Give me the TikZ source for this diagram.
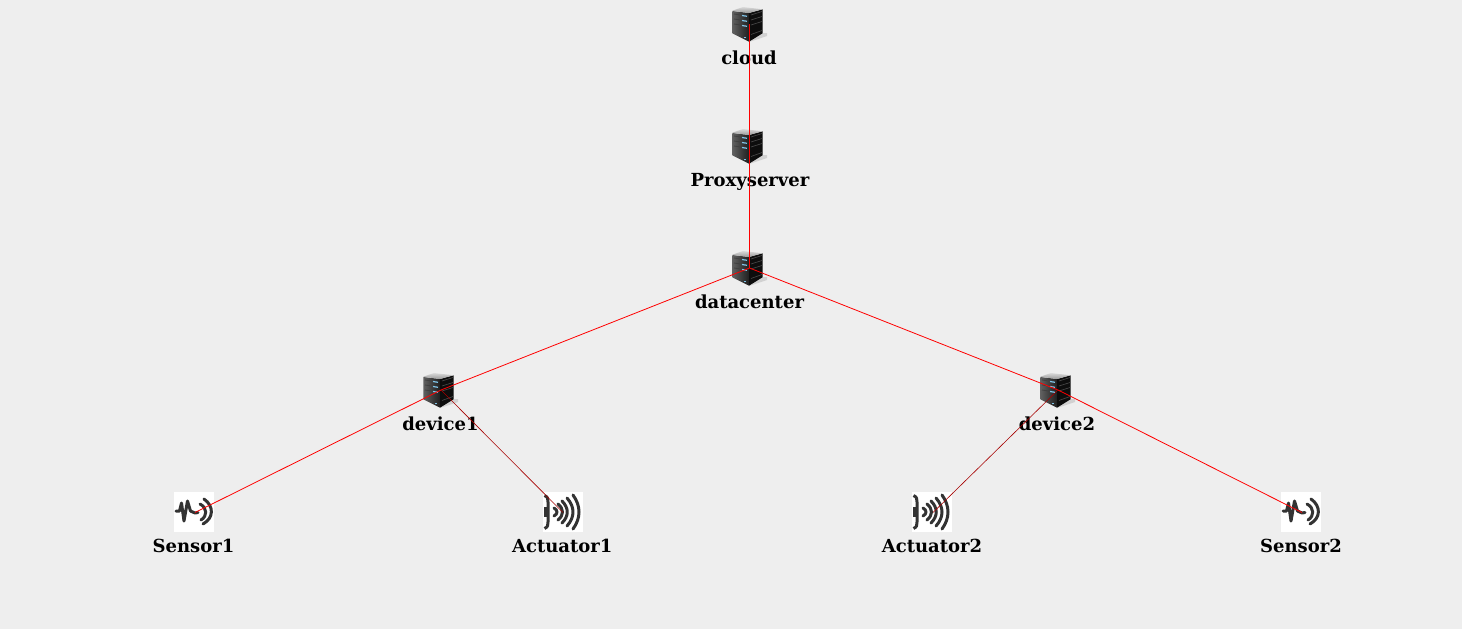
\documentclass[tikz,border=0pt]{standalone}
\usepackage{fontspec}
\setmainfont{DejaVu Serif}
\definecolor{bgc}{HTML}{EEEEEE}
\definecolor{ink}{HTML}{333333}
\definecolor{ledc}{HTML}{7FC4E8}
\tikzset{
  x=1pt,y=-1pt,
  lbl/.style={font=\fontsize{18}{20}\selectfont\bfseries,text=black,inner sep=0pt,anchor=base},
  anchorpt/.style={inner sep=0pt,minimum size=0pt,outer sep=0pt},
  wire/.style={draw=red,line width=0.8pt},
  thinwire/.style={draw=red!65!black,line width=0.6pt},
  wave/.style={draw=ink,line width=3pt,line cap=round,line join=round},
  pics/servericon/.style={code={
    \fill[black!25,opacity=.6] (-1,18) -- (12,9) -- (17,9) -- (17,12) -- (8,15) -- cycle;
    \shade[left color=black!62,right color=black!88] (-17.7,-13) -- (-1,-11) -- (-1,17.7) -- (-17.7,9.3) -- cycle;
    \fill[black!95] (-1,-11) -- (12.5,-14.7) -- (12.5,9.3) -- (-1,17.7) -- cycle;
    \shade[top color=black!15,bottom color=black!40] (-17.7,-13.3) -- (-7,-17) -- (12.5,-14.7) -- (-1,-11) -- cycle;
    \foreach \yy in {-8.5,-3.5,1.5}{
      \draw[line width=.8pt,black!75] (-16,\yy-1.5) -- (-9,\yy-.5);
      \draw[line width=1.2pt,ledc] (-8,\yy) -- (-3,\yy+.8);
      \draw[line width=.6pt,black!70] (1,\yy-.5) -- (12,\yy-4);
    }
    \draw[line width=.6pt,black!70] (1,10.5) -- (12,6.5);
    \fill[ledc] (-6,12.5) rectangle (-4,14);
  }},
  pics/sensoricon/.style={code={
    \fill[white] (-20,-20) rectangle (20,20);
    \draw[wave] (-18,-1) -- (-14.5,-1) -- (-12.5,-9) -- (-10,9) -- (-6.5,-11) -- (-3.5,-1) -- (1,1) -- (4,0.5);
    \draw[wave] (6,-8) .. controls (13.5,-4) and (13.5,4) .. (7,8);
    \draw[wave] (10,-13) .. controls (20,-6) and (20,6) .. (9,12);
  }},
  pics/actuatoricon/.style={code={
    \fill[white] (-20,-20) rectangle (20,20);
    \draw[wave,line cap=butt] (-18.5,-16.5) .. controls (-15,-15) and (-15,-13) .. (-15,-10) -- (-15,10) .. controls (-15,13) and (-15,15) .. (-18.5,16.5);
    \draw[wave,line cap=butt,line width=3.5pt] (-17.5,-5) -- (-17.5,5);
    \draw[wave] (-9,-4) .. controls (-5,-2) and (-5,2) .. (-9,4);
    \draw[wave] (-5,-8) .. controls (1,-3) and (1,3) .. (-5,8);
    \draw[wave] (-1,-11) .. controls (6,-4) and (6,4) .. (-1,11);
    \draw[wave] (4,-14) .. controls (12,-5) and (12,5) .. (4,14);
    \draw[wave] (10,-17) .. controls (18,-6) and (18,6) .. (10,17);
  }}
}
\begin{document}
\begin{tikzpicture}
\path[use as bounding box,fill=bgc] (0,0) rectangle (1462,629);
% icons
\pic at (750,24) {servericon};
\pic at (750,146) {servericon};
\pic at (750,268) {servericon};
\pic at (441,390) {servericon};
\pic at (1058,390) {servericon};
\pic at (194,512) {sensoricon};
\pic at (563,512) {actuatoricon};
\pic at (932,512) {actuatoricon};
\pic at (1301,512) {sensoricon};
% anchor nodes
\node[anchorpt] (cloud) at (749.5,24) {};
\node[anchorpt] (proxy) at (749.5,146) {};
\node[anchorpt] (dc) at (749.5,268) {};
\node[anchorpt] (dev1) at (441,390) {};
\node[anchorpt] (dev2) at (1058,390) {};
\node[anchorpt] (s1) at (195,512.5) {};
\node[anchorpt] (a1) at (563,512.5) {};
\node[anchorpt] (a2) at (933,512.5) {};
\node[anchorpt] (s2) at (1302,512.5) {};
% labels
\node[lbl] (lcloud) at (749,64.5) {cloud};
\node[lbl] (lproxy) at (750,186.5) {Proxyserver};
\node[lbl] (ldc) at (749.5,308.5) {datacenter};
\node[lbl] (ld1) at (440.5,430.5) {device1};
\node[lbl] (ld2) at (1057,430.5) {device2};
\node[lbl] (ls1) at (193.5,552.5) {Sensor1};
\node[lbl] (la1) at (562.3,552.5) {Actuator1};
\node[lbl] (la2) at (932,552.5) {Actuator2};
\node[lbl] (ls2) at (1301,552.5) {Sensor2};
% connectors
\draw[wire] (cloud.center) -- (proxy.center);
\draw[wire] (proxy.center) -- (dc.center);
\draw[wire] (dc.center) -- (dev1.center);
\draw[wire] (dc.center) -- (dev2.center);
\draw[wire] (dev1.center) -- (s1.center);
\draw[thinwire] (dev1.center) -- (a1.center);
\draw[thinwire] (dev2.center) -- (a2.center);
\draw[wire] (dev2.center) -- (s2.center);
\end{tikzpicture}
\end{document}
